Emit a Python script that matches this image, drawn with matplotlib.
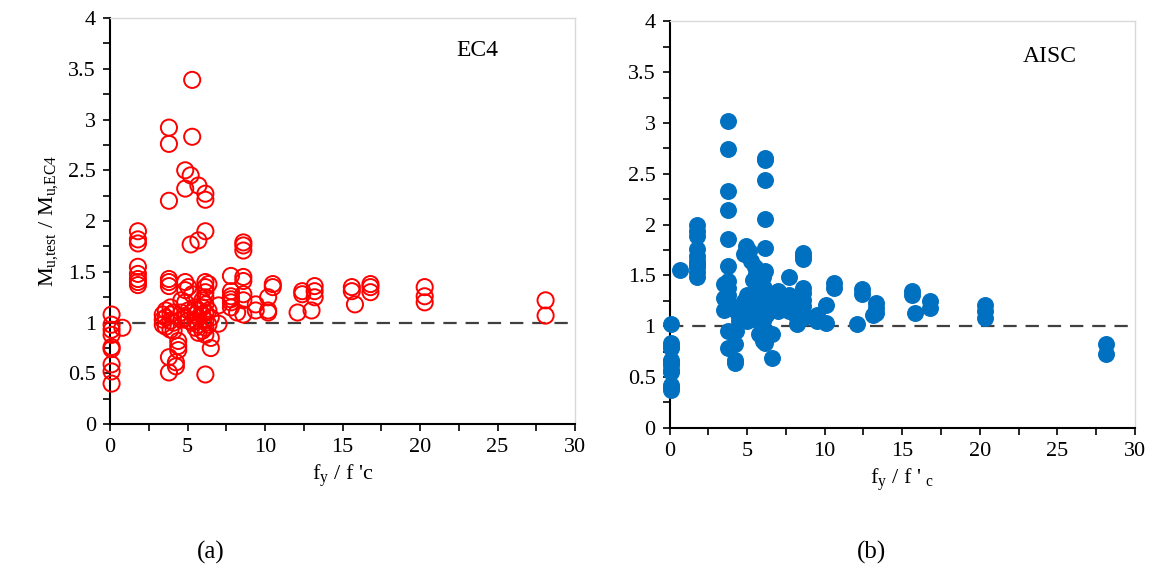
import matplotlib.pyplot as plt
import numpy as np

plt.rcParams['font.family'] = 'Liberation Serif'
plt.rcParams['mathtext.fontset'] = 'custom'
plt.rcParams['mathtext.rm'] = 'Liberation Serif'
plt.rcParams['mathtext.it'] = 'Liberation Serif:italic'

# EC4 ratio  (fy/f'c , Mu,test/Mu,EC4)
ec4_x = [0.1]*9 + [0.8] + [1.8]*8 + [3.8]*8 \
	+ [3.4]*3 + [3.6]*3 + [3.9]*4 + [4.1]*3 + [4.4]*3 + [4.25]*2 + [4.6]*3 \
	+ [4.85]*6 + [5.05]*3 + [5.2]*2 + [5.3]*5 + [5.5]*4 + [5.7]*6 + [5.95]*4 \
	+ [6.15]*13 + [6.35]*3 + [6.5]*3 + [7.0]*2 + [7.8]*6 + [8.2] + [8.6]*8 \
	+ [9.4]*2 + [10.2]*3 + [10.5]*2 + [12.1] + [12.4]*2 + [13.0] + [13.2]*3 \
	+ [15.6]*2 + [15.8] + [16.8]*3 + [20.3]*3 + [28.1]*2
ec4_y = [1.08, 0.98, 0.93, 0.88, 0.76, 0.74, 0.59, 0.52, 0.40,
	0.95,
	1.90, 1.82, 1.78, 1.55, 1.48, 1.43, 1.40, 1.37,
	2.92, 2.76, 2.20, 1.43, 1.40, 1.36, 0.66, 0.51,
	1.08, 1.03, 0.98,
	1.12, 1.05, 0.96,
	1.15, 1.08, 1.02, 0.93,
	1.10, 1.00, 0.92,
	0.82, 0.77, 0.73,
	0.61, 0.57,
	1.22, 1.10, 1.03,
	2.50, 2.32, 1.40, 1.32, 1.20, 1.05,
	1.35, 1.12, 1.02,
	2.45, 1.77,
	3.39, 2.83, 1.28, 1.10, 1.00,
	1.15, 1.08, 1.02, 0.95,
	2.35, 1.81, 1.12, 0.98, 0.90, 1.05,
	1.22, 1.15, 1.08, 0.92,
	2.27, 2.21, 1.90, 1.40, 1.35, 1.30, 1.25, 1.18, 1.10, 1.02, 0.95, 0.88, 0.49,
	1.38, 1.12, 0.98,
	0.75, 1.05, 0.85,
	1.17, 0.99,
	1.46, 1.31, 1.26, 1.23, 1.20, 1.15,
	1.10,
	1.79, 1.76, 1.71, 1.45, 1.41, 1.28, 1.22, 1.08,
	1.18, 1.12,
	1.25, 1.12, 1.10,
	1.38, 1.35,
	1.10,
	1.31, 1.28,
	1.12,
	1.36, 1.31, 1.25,
	1.35, 1.31,
	1.18,
	1.38, 1.35, 1.30,
	1.35, 1.26, 1.20,
	1.22, 1.07]

# AISC ratio
aisc_x = [0.1]*12 + [0.7] + [1.8]*10 + [3.8]*13 + [3.5]*3 + [4.2]*4 + [6.15]*8 + [6.6]*2 \
	+ [4.9, 4.77, 5.13, 5.26, 5.5, 5.6, 5.75, 5.87, 5.0, 4.77, 5.26, 5.5, 5.0, 5.38,
	   6.0, 6.2, 6.36, 6.1, 4.5, 4.28, 5.75, 6.0, 5.5, 5.7, 5.9, 6.0, 5.4, 5.6, 4.6, 4.4] \
	+ [7.0, 7.0, 6.85] + [7.7]*4 + [8.2]*2 + [8.6]*9 + [9.5]*2 + [10.1]*2 + [10.6]*2 \
	+ [12.1] + [12.4]*2 + [13.1] + [13.3]*3 + [15.6]*2 + [15.8] + [16.8]*2 + [20.3]*3 + [28.1]*2
aisc_y = [1.02, 0.83, 0.78, 0.80, 0.67, 0.65, 0.62, 0.57, 0.55, 0.42, 0.40, 0.37,
	1.55,
	2.00, 1.94, 1.89, 1.76, 1.69, 1.64, 1.61, 1.58, 1.53, 1.48,
	3.02, 2.74, 2.33, 2.14, 1.86, 1.59, 1.44, 1.38, 1.31, 1.25, 1.18, 0.95, 0.78,
	1.41, 1.28, 1.16,
	0.82, 0.67, 0.64, 0.95,
	2.66, 2.64, 2.44, 2.05, 1.77, 1.54, 1.25, 0.83,
	0.69, 0.92,
	1.79, 1.71, 1.74, 1.64, 1.58, 1.51, 1.41, 1.35, 1.31, 1.25, 1.18, 1.11, 1.05, 1.07,
	1.05, 1.11, 1.31, 1.38, 1.05, 0.95, 0.92, 0.85, 1.25, 1.20, 1.15, 1.48, 1.45, 1.30, 1.20, 1.12,
	1.35, 1.15, 1.25,
	1.48, 1.31, 1.25, 1.15,
	1.08, 1.02,
	1.72, 1.69, 1.66, 1.38, 1.33, 1.26, 1.20, 1.13, 1.08,
	1.11, 1.05,
	1.21, 1.03,
	1.42, 1.38,
	1.02,
	1.37, 1.32,
	1.11,
	1.23, 1.18, 1.13,
	1.35, 1.31,
	1.13,
	1.25, 1.18,
	1.21, 1.15, 1.08,
	0.82, 0.73]

fig = plt.figure(figsize=(11.51, 5.78), dpi=100)
ax1 = fig.add_axes([0.0956, 0.266, 0.404, 0.703])
ax2 = fig.add_axes([0.5817, 0.260, 0.4044, 0.703])

ax1.scatter(ec4_x, ec4_y, s=135, facecolors='none', edgecolors='#ff0000', linewidths=1.4, zorder=3, clip_on=False)
ax2.scatter(aisc_x, aisc_y, s=125, color='#0070c0', zorder=3, clip_on=False)

for ax in (ax1, ax2):
	ax.axhline(1, color='#404040', linestyle=(0, (6, 4)), linewidth=1.6, zorder=2)
	ax.set_xlim(0, 30)
	ax.set_ylim(0, 4)
	ax.set_xticks(np.arange(0, 31, 5))
	ax.set_xticks(np.arange(0, 31, 2.5), minor=True)
	ax.set_yticks(np.arange(0, 4.01, 0.5))
	ax.set_yticklabels(['0', '0.5', '1', '1.5', '2', '2.5', '3', '3.5', '4'])
	ax.set_yticks(np.arange(0, 4.01, 0.25), minor=True)
	ax.tick_params(which='both', direction='out', length=5, width=1.2, labelsize=16, pad=5)
	for s in ('left', 'bottom'):
		ax.spines[s].set_linewidth(1.5)
		ax.spines[s].set_color('black')
	for s in ('top', 'right'):
		ax.spines[s].set_linewidth(1)
		ax.spines[s].set_color('#d9d9d9')

ax1.text(23.7, 3.68, 'EC4', fontsize=17, ha='center', va='center')
ax2.text(24.5, 3.65, 'AISC', fontsize=17, ha='center', va='center')

ax1.set_ylabel('M$_\\mathrm{u{,}test}$ / M$_\\mathrm{u{,}EC4}$', fontsize=16, labelpad=6)
ax1.set_xlabel("f$_\\mathrm{y}$ / f 'c", fontsize=16, labelpad=4)
ax2.set_xlabel("f$_\\mathrm{y}$ / f ' $_\\mathrm{c}$", fontsize=16, labelpad=4)

fig.text(0.183, 0.045, '(a)', fontsize=18, ha='center', va='center')
fig.text(0.757, 0.045, '(b)', fontsize=18, ha='center', va='center')

plt.savefig('out.png')
